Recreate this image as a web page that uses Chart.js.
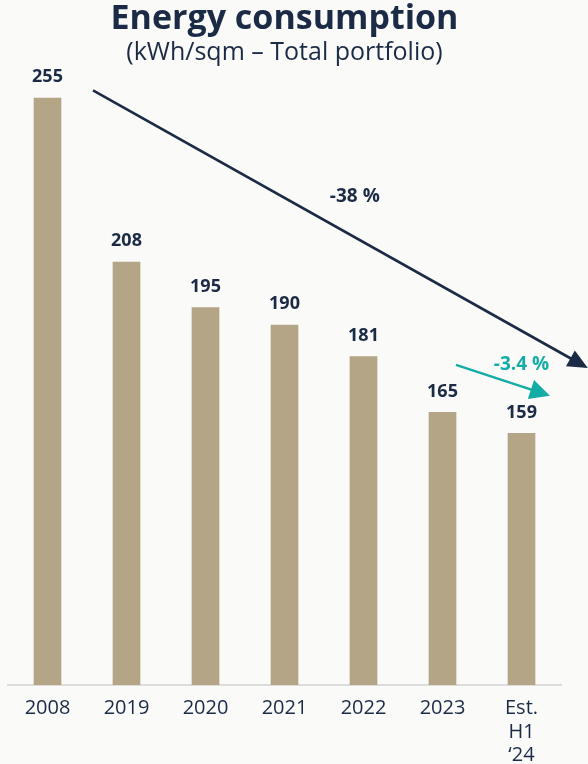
<!DOCTYPE html>
<html>
<head>
<meta charset="utf-8">
<script src="https://cdn.jsdelivr.net/npm/chart.js@4.4.1/dist/chart.umd.min.js"></script>
<style>
  html, body { margin: 0; padding: 0; background: #fafaf8; }
  #wrap { width: 588px; height: 764px; position: relative; }
</style>
</head>
<body>
<div id="wrap"><canvas id="c"></canvas></div>
<script>
// Energy intensity per year (kWh/sqm, total portfolio)
const categories = ['2008', '2019', '2020', '2021', '2022', '2023', ['Est.', 'H1', '\u201824']];
const consumption = [255, 208, 195, 190, 181, 165, 159];
const trendLabels = ['-38 %', '-3.4 %'];

const NAVY = '#1b2b46';
const TEAL = '#14aca6';
const BAR = '#b4a586';
const FONT = "'Open Sans', 'DejaVu Sans', sans-serif";

// Trend arrows expressed in data space: x as category index (fractional), y as value
const trends = [
  { from: [0.576, 257.2], to: [6.84, 177.7], color: NAVY, width: 2.6, head: 20, half: 9,
    text: trendLabels[0], at: [3.89, 226.7] },
  { from: [5.17, 178.6], to: [6.36, 169.8], color: TEAL, width: 2.4, head: 20, half: 10,
    text: trendLabels[1], at: [6.0, 178.6] }
];

function catPx(xs, i) {
  const p0 = xs.getPixelForValue(0), p1 = xs.getPixelForValue(1);
  return p0 + (p1 - p0) * i;
}

const overlay = {
  id: 'overlay',
  afterDatasetsDraw(chart) {
    const { ctx, scales: { x, y } } = chart;
    const meta = chart.getDatasetMeta(0);
    ctx.save();
    // value labels above bars
    ctx.fillStyle = NAVY;
    ctx.font = "bold 18px " + FONT;
    ctx.textAlign = 'center';
    ctx.textBaseline = 'middle';
    meta.data.forEach((bar, i) => {
      ctx.fillText(String(consumption[i]), bar.x, bar.y - 21);
    });
    // trend arrows
    trends.forEach(t => {
      const x1 = catPx(x, t.from[0]), y1 = y.getPixelForValue(t.from[1]);
      const x2 = catPx(x, t.to[0]), y2 = y.getPixelForValue(t.to[1]);
      const ang = Math.atan2(y2 - y1, x2 - x1);
      const bx = x2 - Math.cos(ang) * t.head, by = y2 - Math.sin(ang) * t.head;
      ctx.strokeStyle = t.color;
      ctx.lineWidth = t.width;
      ctx.beginPath();
      ctx.moveTo(x1, y1);
      ctx.lineTo(bx + Math.cos(ang) * 2, by + Math.sin(ang) * 2);
      ctx.stroke();
      ctx.fillStyle = t.color;
      ctx.beginPath();
      ctx.moveTo(x2, y2);
      ctx.lineTo(bx - Math.sin(ang) * t.half, by + Math.cos(ang) * t.half);
      ctx.lineTo(bx + Math.sin(ang) * t.half, by - Math.cos(ang) * t.half);
      ctx.closePath();
      ctx.fill();
      ctx.font = "bold 19px " + FONT;
      ctx.fillText(t.text, catPx(x, t.at[0]), y.getPixelForValue(t.at[1]));
    });
    ctx.restore();
  }
};

new Chart(document.getElementById('c'), {
  type: 'bar',
  data: {
    labels: categories,
    datasets: [{
      data: consumption,
      backgroundColor: BAR,
      barThickness: 27,
      borderWidth: 0
    }]
  },
  options: {
    responsive: true,
    maintainAspectRatio: false,
    animation: false,
    layout: { padding: { left: 8, right: 27, top: 0, bottom: 0 } },
    plugins: {
      legend: { display: false },
      tooltip: { enabled: false },
      title: {
        display: true,
        text: 'Energy consumption',
        color: NAVY,
        font: { family: FONT, size: 34, weight: 'bold', lineHeight: 1.15 },
        padding: { top: 0, bottom: 0 }
      },
      subtitle: {
        display: true,
        text: '(kWh/sqm \u2013 Total portfolio)',
        color: NAVY,
        font: { family: FONT, size: 25, weight: 'normal', lineHeight: 1.1 },
        padding: { top: 0, bottom: 6.9 }
      }
    },
    scales: {
      x: {
        grid: { display: true, color: 'transparent', drawTicks: false },
        border: { display: true, color: '#dcdcda', width: 2 },
        ticks: {
          color: NAVY,
          padding: 12,
          maxRotation: 0,
          autoSkip: false,
          font: { family: FONT, size: 20, lineHeight: 1.17 }
        },
        afterFit(scale) { scale.height = 79; }
      },
      y: {
        display: false,
        min: 87,
        max: 262
      }
    }
  },
  plugins: [overlay]
});
</script>
</body>
</html>
